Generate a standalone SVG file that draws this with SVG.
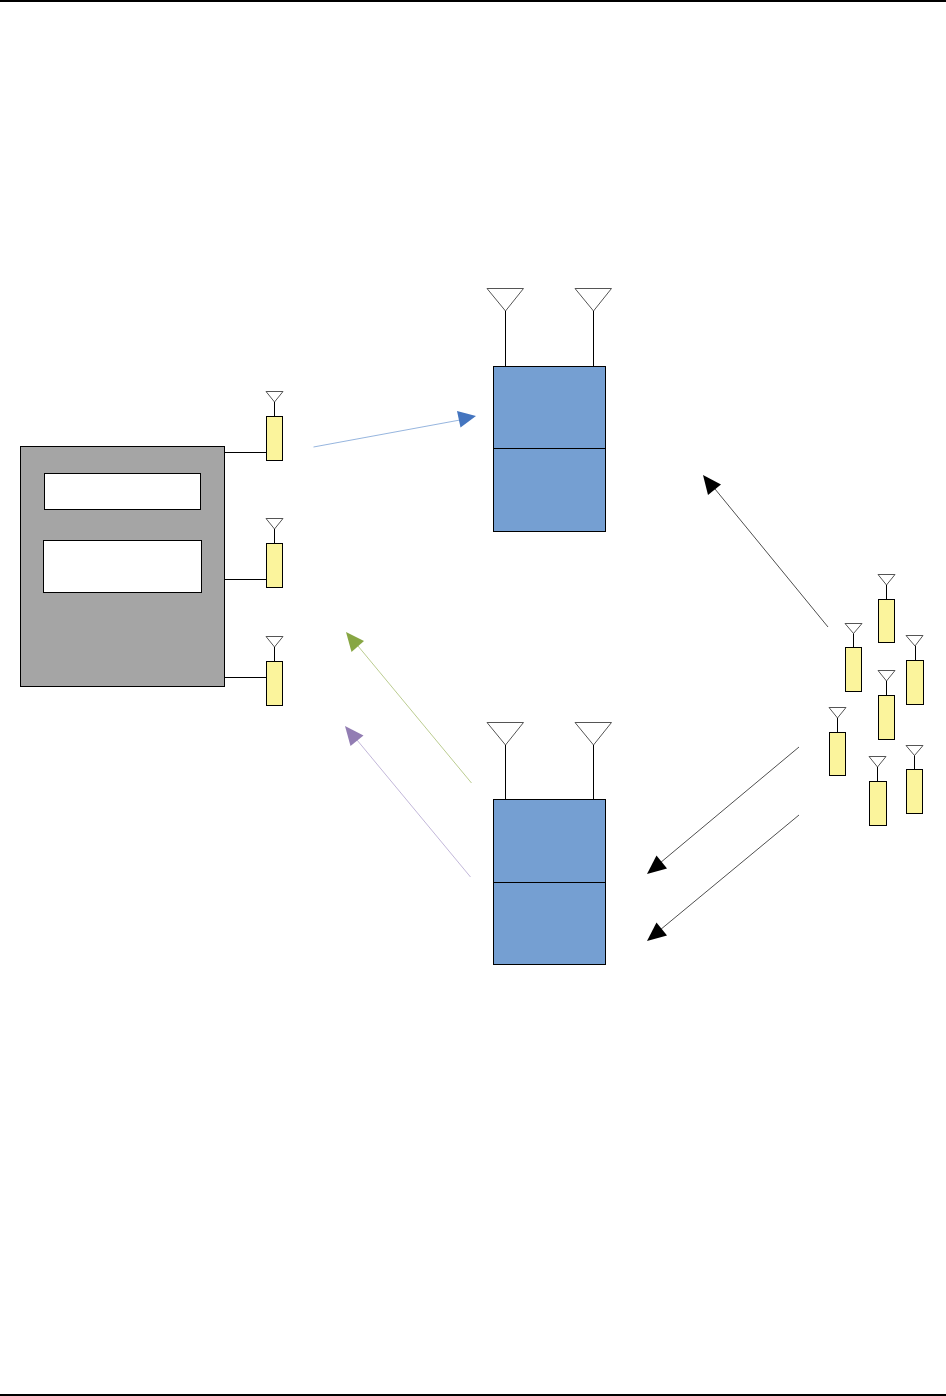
<svg xmlns="http://www.w3.org/2000/svg" width="946" height="1396" viewBox="0 0 946 1396">
<style>
.o{stroke:#000;stroke-width:1}
.t{fill:#fff;stroke:#555;stroke-width:1}
.y{fill:#fbf49c;stroke:#000;stroke-width:1}
.b{fill:#759fd2;stroke:#000;stroke-width:1}
.w{fill:#fff;stroke:#000;stroke-width:1}
.c{fill:none;stroke-width:.8}
</style>
<rect width="946" height="1396" fill="#fff"/>
<g id="page-rules"><rect x="0" y="0" width="946" height="2" fill="#000"/><rect x="0" y="1394" width="946" height="2" fill="#000"/></g>
<g id="host">
<rect x="20.5" y="446.5" width="204" height="240" fill="#a5a5a5" stroke="#000"/>
<rect class="w" x="44.5" y="473.5" width="156" height="36"/>
<rect class="w" x="43.5" y="540.5" width="158" height="52"/>
</g>
<g id="connectors">
<line class="o" x1="224.5" y1="452.5" x2="266.5" y2="452.5"/>
<line class="o" x1="224.5" y1="579.5" x2="266.5" y2="579.5"/>
<line class="o" x1="224.5" y1="677.5" x2="266.5" y2="677.5"/>
<line class="c" stroke="#7ba2d6" x1="313.5" y1="447" x2="460" y2="420"/>
<polygon fill="#4475bf" points="476,416 460.500,427.500 457,411"/>
<line class="c" stroke="#a9bf74" x1="471.500" y1="783" x2="358" y2="646"/>
<polygon fill="#87a643" points="346,632 364,641 351.500,652"/>
<line class="c" stroke="#b3a5cf" x1="470.500" y1="877" x2="357" y2="740"/>
<polygon fill="#927db3" points="345,726 363.500,735.500 350.500,746"/>
<line class="c" stroke="#222" x1="828" y1="627" x2="715" y2="489"/>
<polygon fill="#000" points="703,475 721,484.500 708,495"/>
<line class="c" stroke="#222" x1="799" y1="747" x2="660" y2="863"/>
<polygon fill="#000" points="647,874 656.500,855.500 667,868.500"/>
<line class="c" stroke="#222" x1="799" y1="815" x2="660" y2="930"/>
<polygon fill="#000" points="647,941 656.500,922.500 667,935.500"/>
</g>
<g id="radio-top">
<rect class="b" x="493.500" y="366.500" width="112" height="165"/>
<line class="o" x1="493.500" y1="448.500" x2="605.500" y2="448.500"/>
<polygon class="t" points="487,288.500 523.500,288.500 505.500,311"/><line class="o" x1="505.500" y1="311" x2="505.500" y2="366"/>
<polygon class="t" points="575,288.500 611.500,288.500 593.500,311"/><line class="o" x1="593.500" y1="311" x2="593.500" y2="366"/>
</g>
<g id="radio-bottom">
<rect class="b" x="493.500" y="799.500" width="112" height="165"/>
<line class="o" x1="493.500" y1="882.500" x2="605.500" y2="882.500"/>
<polygon class="t" points="487,722.500 523.500,722.500 505.500,745"/><line class="o" x1="505.500" y1="745" x2="505.500" y2="799"/>
<polygon class="t" points="575,722.500 611.500,722.500 593.500,745"/><line class="o" x1="593.500" y1="745" x2="593.500" y2="799"/>
</g>
<g id="tag-a1"><rect class="y" x="266.500" y="416.500" width="16" height="44"/><polygon class="t" points="266,391.500 283,391.500 274.500,402"/><line class="o" x1="274.500" y1="402" x2="274.500" y2="416"/></g>
<g id="tag-a2"><rect class="y" x="266.500" y="543.500" width="16" height="44"/><polygon class="t" points="266,518.500 283,518.500 274.500,529"/><line class="o" x1="274.500" y1="529" x2="274.500" y2="543"/></g>
<g id="tag-a3"><rect class="y" x="266.500" y="661.500" width="16" height="44"/><polygon class="t" points="266,636.500 283,636.500 274.500,647"/><line class="o" x1="274.500" y1="647" x2="274.500" y2="661"/></g>
<g id="tag-b1"><rect class="y" x="878.500" y="599.500" width="16" height="43"/><polygon class="t" points="878,574.500 895,574.500 886.500,585"/><line class="o" x1="886.500" y1="585" x2="886.500" y2="599"/></g>
<g id="tag-b2"><rect class="y" x="845.500" y="647.500" width="16" height="44"/><polygon class="t" points="845,623.500 862,623.500 853.500,633.500"/><line class="o" x1="853.500" y1="633.500" x2="853.500" y2="647"/></g>
<g id="tag-b3"><rect class="y" x="906.500" y="660.500" width="17" height="44"/><polygon class="t" points="906,635.500 923,635.500 915,646"/><line class="o" x1="915.500" y1="646" x2="915.500" y2="660"/></g>
<g id="tag-b4"><rect class="y" x="878.500" y="695.500" width="16" height="44"/><polygon class="t" points="878,670.500 895,670.500 886.500,681"/><line class="o" x1="886.500" y1="681" x2="886.500" y2="695"/></g>
<g id="tag-b5"><rect class="y" x="829.500" y="732.500" width="16" height="43"/><polygon class="t" points="829,707.500 846,707.500 837.500,718"/><line class="o" x1="837.500" y1="718" x2="837.500" y2="732"/></g>
<g id="tag-b6"><rect class="y" x="869.500" y="781.500" width="17" height="44"/><polygon class="t" points="869,756.500 886,756.500 877.500,767"/><line class="o" x1="877.500" y1="767" x2="877.500" y2="781"/></g>
<g id="tag-b7"><rect class="y" x="906.500" y="769.500" width="16" height="44"/><polygon class="t" points="906,745.500 923,745.500 914.500,755.500"/><line class="o" x1="914.500" y1="755.500" x2="914.500" y2="769"/></g>
</svg>
